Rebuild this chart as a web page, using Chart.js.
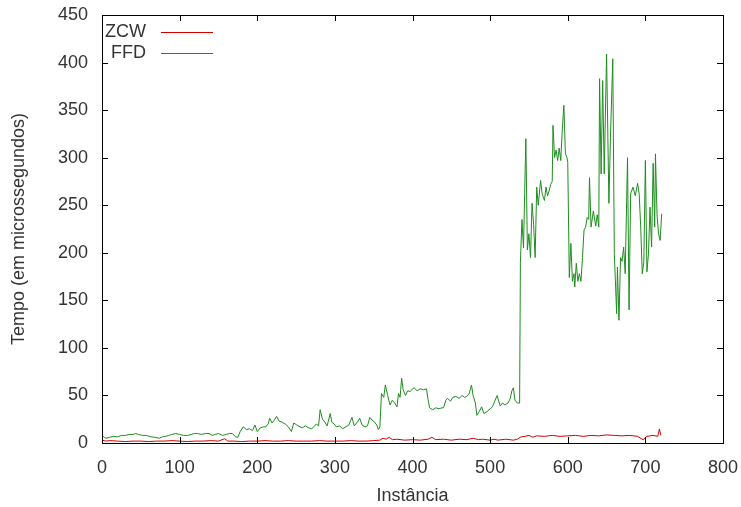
<!DOCTYPE html>
<html>
<head>
<meta charset="utf-8">
<script src="https://cdn.jsdelivr.net/npm/chart.js@4.4.1/dist/chart.umd.min.js"></script>
<style>
  body { margin: 0; background: #fff; }
  canvas { display: block; }
</style>
</head>
<body>
<canvas id="tempoChart" width="741" height="507"></canvas>
<script>
// instancias e tempos (microssegundos)
const ffdInst = [0, 3, 5, 10, 15, 20, 25, 30, 35, 40, 43, 47, 52, 57, 63, 68, 74, 78, 82, 86, 90, 95, 100, 105, 110, 115, 119, 123, 128, 133, 138, 142, 146, 150, 155, 160, 164, 168, 172, 175, 178, 182, 186, 190, 194, 197, 200, 204, 208, 211, 214, 216, 219, 222, 225, 228, 232, 236, 240, 244, 247, 251, 255, 258, 262, 266, 270, 273, 276, 279, 281, 284, 287, 290, 294, 296, 299, 302, 306, 310, 314, 318, 322, 325, 329, 332, 335, 339, 342, 345, 348, 351, 354, 356, 358, 360, 363, 365, 368, 371, 374, 377, 380, 382, 384, 386, 388, 391, 394, 397, 400, 402, 406, 410, 414, 418, 420, 422, 426, 430, 434, 438, 440, 443, 445, 449, 452, 456, 460, 464, 467, 470, 473, 476, 478, 481, 483, 486, 489, 492, 496, 500, 503, 506, 509, 511, 513, 516, 519, 523, 526, 528, 530, 532, 535, 538, 539, 541, 543, 546, 548, 550, 552, 554, 556, 558, 560, 562, 565, 567, 570, 572, 574, 576, 578, 580, 581, 583, 585, 587, 589, 591, 593, 595, 597, 599, 600, 602, 604, 606, 608, 609, 611, 613, 615, 617, 619, 621, 623, 625, 627, 628, 630, 633, 636, 638, 640, 641, 643, 645, 647, 650, 653, 655, 658, 660, 663, 664, 666, 668, 670, 672, 674, 677, 679, 681, 684, 687, 690, 692, 694, 696, 698, 700, 702, 704, 706, 708, 710, 712, 713, 715, 717, 719, 721];
const ffdTempo = [8, 6, 5, 6, 7, 6.5, 8, 8, 9, 9, 10, 9, 8, 8, 6.5, 6, 5, 6.5, 7, 8, 9, 10, 9, 8, 8, 9, 10, 10, 9, 10, 10, 8, 9, 10, 8, 9, 10, 10, 6.5, 6, 12, 17, 14, 15, 13, 19, 12, 16, 17, 17, 20, 26, 21, 24, 28, 23, 22, 20, 17, 12, 21, 19, 17, 16, 18, 16, 15, 17, 20, 18, 35, 25, 22, 18, 31, 22, 20, 17, 18, 15, 17, 19, 27, 18, 22, 26, 19, 17, 18, 27, 24, 22, 19, 14, 17, 52, 48, 61, 50, 40, 45, 42, 38, 52, 48, 68, 56, 50, 55, 54, 57, 58, 55, 57, 56, 57, 46, 37, 35, 37, 36, 37, 37, 45, 47, 44, 48, 49, 47, 50, 48, 49, 52, 61, 50, 42, 29, 33, 38, 31, 33, 36, 38, 44, 50, 44, 39, 42, 40, 42, 47, 55, 58, 45, 42, 42, 190, 235, 205, 320, 203, 220, 195, 252, 230, 195, 269, 250, 276, 262, 255, 269, 260, 265, 272, 275, 334, 300, 308, 297, 310, 297, 330, 355, 304, 300, 295, 174, 210, 170, 178, 164, 189, 170, 178, 170, 195, 224, 227, 237, 235, 279, 227, 244, 228, 240, 227, 383, 283, 381, 283, 409, 252, 321, 404, 199, 136, 185, 129, 195, 191, 206, 178, 300, 140, 262, 269, 260, 273, 262, 227, 178, 190, 297, 180, 199, 248, 206, 294, 227, 304, 240, 220, 213, 241];

const zcwInst = [0, 5, 10, 20, 30, 40, 50, 60, 70, 80, 90, 100, 110, 120, 130, 140, 150, 158, 162, 170, 180, 190, 200, 210, 220, 230, 240, 250, 260, 270, 280, 290, 300, 310, 320, 330, 340, 350, 358, 362, 366, 370, 374, 380, 390, 400, 410, 420, 425, 430, 440, 450, 460, 470, 478, 485, 490, 500, 505, 510, 520, 530, 535, 540, 545, 550, 555, 560, 570, 580, 590, 600, 610, 620, 630, 640, 650, 660, 670, 680, 690, 697, 702, 710, 716, 718, 720];
const zcwTempo = [3, 2, 2.5, 2, 1.5, 2, 2, 1.5, 2, 2, 2.5, 2, 1.5, 2, 2, 2.5, 2, 4.5, 2, 2, 1.5, 2, 2, 2.5, 2, 2, 2.5, 2, 2, 2, 2.5, 2, 2, 2, 2.5, 2, 2, 2.5, 3, 5, 4, 6, 3.5, 4, 3, 3.5, 3, 4, 6, 3.5, 4, 3, 4, 3.5, 5, 3.5, 4, 3, 4, 3, 4, 3, 4, 6.5, 7, 8, 6, 7.5, 7, 8, 7, 7.5, 8, 7, 8, 7.5, 8.5, 8, 7.5, 8, 7, 3.5, 7, 8, 7, 14.7, 8];

const xTicks = [0, 100, 200, 300, 400, 500, 600, 700, 800];
const yTicks = [0, 50, 100, 150, 200, 250, 300, 350, 400, 450];

const toPoints = (xs, ys) => xs.map((x, i) => ({ x: x, y: ys[i] }));

const fontFamily = "'Liberation Sans', Arial, sans-serif";
const fontSize = 18;
const textColor = '#333333';

// ticks para dentro, estilo gnuplot, nos quatro lados
const gnuplotTicks = {
  id: 'gnuplotTicks',
  afterDraw(chart) {
    const { ctx, chartArea: a, scales } = chart;
    const len = 6;
    ctx.save();
    ctx.strokeStyle = '#000';
    ctx.lineWidth = 1;
    ctx.beginPath();
    xTicks.forEach(v => {
      const px = Math.round(scales.x.getPixelForValue(v)) + 0.5;
      ctx.moveTo(px, a.bottom); ctx.lineTo(px, a.bottom - len);
      ctx.moveTo(px, a.top); ctx.lineTo(px, a.top + len);
    });
    yTicks.forEach(v => {
      const py = Math.round(scales.y.getPixelForValue(v)) + 0.5;
      ctx.moveTo(a.left, py); ctx.lineTo(a.left + len, py);
      ctx.moveTo(a.right, py); ctx.lineTo(a.right - len, py);
    });
    ctx.stroke();
    ctx.strokeRect(Math.round(a.left) + 0.5, Math.round(a.top) + 0.5,
      Math.round(a.right - a.left), Math.round(a.bottom - a.top));
    ctx.restore();
  }
};

// legenda dentro do grafico, canto superior esquerdo
const insideLegend = {
  id: 'insideLegend',
  afterDraw(chart) {
    const { ctx, chartArea: a } = chart;
    ctx.save();
    ctx.font = fontSize + 'px ' + fontFamily;
    ctx.textAlign = 'right';
    ctx.textBaseline = 'middle';
    chart.data.datasets.forEach((ds, i) => {
      const y = a.top + 17 + i * 21;
      ctx.fillStyle = textColor;
      ctx.fillText(ds.label, a.left + 44, y);
      ctx.strokeStyle = ds.borderColor;
      ctx.lineWidth = 1;
      ctx.beginPath();
      ctx.moveTo(a.left + 59, y + 0.5);
      ctx.lineTo(a.left + 111, y + 0.5);
      ctx.stroke();
    });
    ctx.restore();
  }
};

new Chart(document.getElementById('tempoChart'), {
  type: 'line',
  data: {
    datasets: [
      {
        label: 'ZCW',
        data: toPoints(zcwInst, zcwTempo),
        borderColor: '#d40000',
        borderWidth: 1,
        pointRadius: 0,
        tension: 0,
      },
      {
        label: 'FFD',
        data: toPoints(ffdInst, ffdTempo),
        borderColor: '#1e8c1e',
        borderWidth: 1,
        pointRadius: 0,
        tension: 0,
      },
    ],
  },
  options: {
    responsive: false,
    animation: false,
    events: [],
    layout: { padding: { top: 15, right: 18, left: 0, bottom: 0 } },
    plugins: {
      legend: { display: false },
      tooltip: { enabled: false },
    },
    scales: {
      x: {
        type: 'linear',
        min: 0,
        max: 800,
        afterBuildTicks: s => { s.ticks = xTicks.map(v => ({ value: v })); },
        afterFit: s => { s.height = 64; s.paddingLeft = 0; s.paddingRight = 0; },
        grid: { display: false, drawTicks: false },
        border: { display: false },
        ticks: { color: textColor, padding: 14, font: { family: fontFamily, size: fontSize } },
        title: {
          display: true,
          text: 'Instância',
          color: textColor,
          padding: { top: 6, bottom: 0 },
          font: { family: fontFamily, size: fontSize },
        },
      },
      y: {
        min: 0,
        max: 450,
        afterBuildTicks: s => { s.ticks = yTicks.map(v => ({ value: v })); },
        afterFit: s => { s.width = 102; s.paddingTop = 0; s.paddingBottom = 0; },
        grid: { display: false, drawTicks: false },
        border: { display: false },
        ticks: { color: textColor, padding: 14, font: { family: fontFamily, size: fontSize } },
        title: {
          display: true,
          text: 'Tempo (em microssegundos)',
          color: textColor,
          padding: { top: 8, bottom: 0 },
          font: { family: fontFamily, size: fontSize },
        },
      },
    },
  },
  plugins: [gnuplotTicks, insideLegend],
});
</script>
</body>
</html>
